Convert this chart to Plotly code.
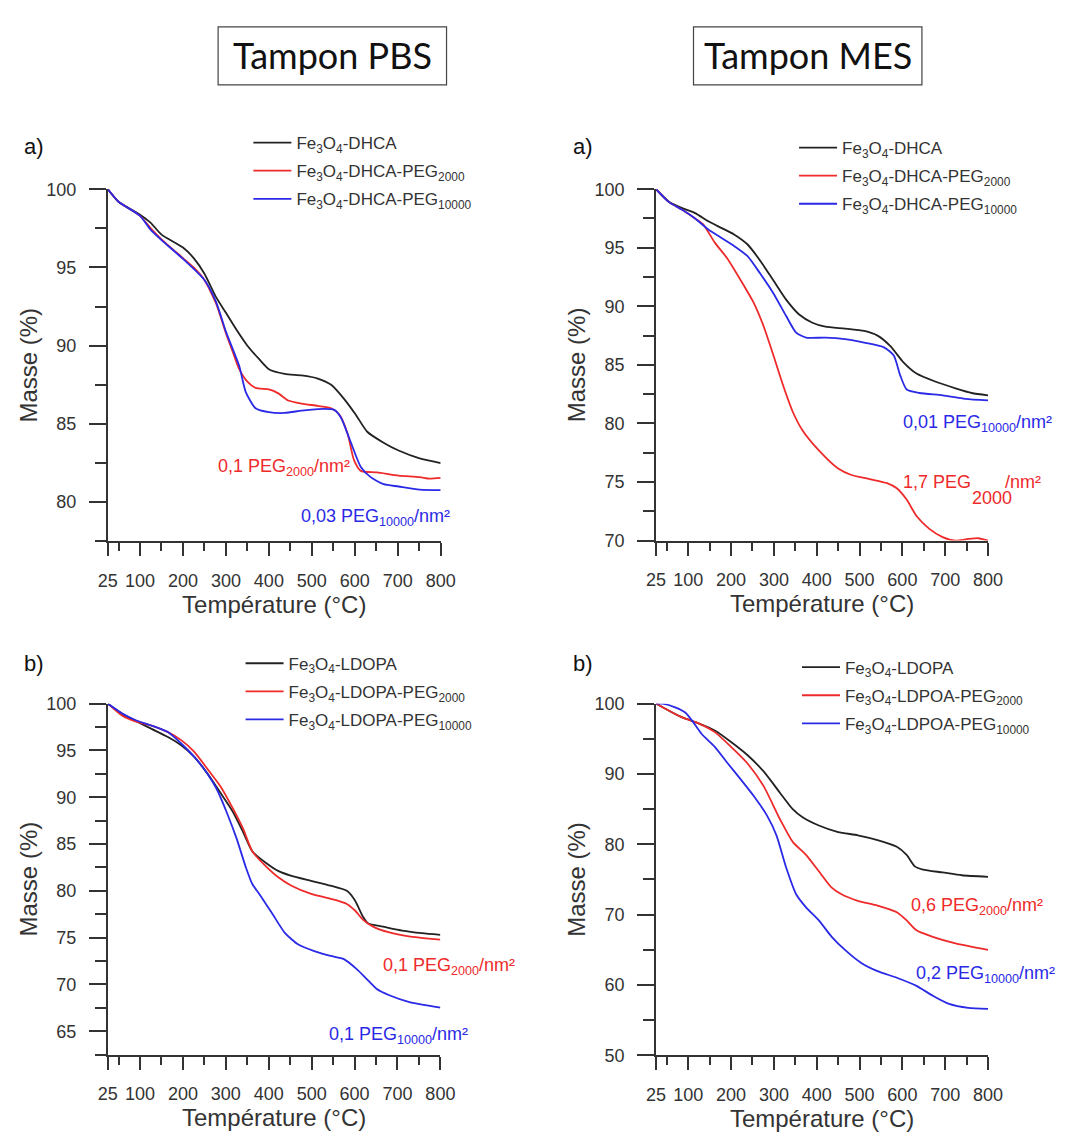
import plotly.graph_objects as go

# ---------------- DATA ----------------
# Panel a) Tampon PBS
pbs_a_dhca_T = [25, 50, 100, 125, 150, 200, 225, 250, 277, 300, 325, 350, 377, 400, 437, 476, 514, 545, 575, 602, 629, 667, 702, 751, 800]
pbs_a_dhca_m = [100, 99.2, 98.37, 97.85, 97.1, 96.27, 95.6, 94.6, 93.1, 92.1, 91.0, 90.0, 89.15, 88.5, 88.2, 88.1, 87.9, 87.5, 86.6, 85.6, 84.5, 83.8, 83.3, 82.8, 82.5]
pbs_a_p2k_T = [25, 50, 100, 125, 150, 200, 225, 250, 277, 300, 316, 331, 350, 369, 400, 422, 445, 476, 514, 545, 564, 583, 598, 614, 652, 702, 751, 774, 800]
pbs_a_p2k_m = [100, 99.2, 98.3, 97.5, 96.8, 95.6, 95.0, 94.2, 92.7, 90.8, 89.6, 88.5, 87.7, 87.3, 87.2, 86.95, 86.5, 86.3, 86.15, 86.0, 85.6, 84.4, 82.7, 82.0, 81.9, 81.7, 81.6, 81.5, 81.55]
pbs_a_p10k_T = [25, 50, 100, 125, 150, 200, 250, 277, 300, 331, 346, 369, 400, 437, 476, 514, 552, 568, 591, 614, 637, 667, 702, 751, 800]
pbs_a_p10k_m = [100, 99.2, 98.3, 97.4, 96.75, 95.55, 94.2, 92.8, 90.9, 88.7, 87.05, 86.0, 85.75, 85.7, 85.85, 85.95, 85.9, 85.4, 83.8, 82.25, 81.6, 81.15, 81.0, 80.8, 80.77]

# Panel a) Tampon MES
mes_a_dhca_T = [25, 55, 86, 116, 147, 177, 207, 238, 268, 299, 329, 359, 390, 420, 466, 511, 542, 572, 602, 633, 678, 724, 762, 800]
mes_a_dhca_m = [100, 98.94, 98.38, 97.96, 97.26, 96.7, 96.14, 95.3, 93.9, 92.2, 90.55, 89.3, 88.6, 88.26, 88.1, 87.9, 87.5, 86.6, 85.24, 84.26, 83.56, 83.0, 82.6, 82.4]
mes_a_p2k_T = [25, 55, 86, 116, 135, 162, 192, 223, 253, 276, 299, 321, 344, 367, 405, 450, 481, 526, 564, 587, 610, 633, 663, 694, 724, 754, 777, 800]
mes_a_p2k_m = [100, 98.9, 98.24, 97.5, 97.0, 95.44, 94.05, 92.2, 90.3, 88.3, 85.8, 83.3, 81.0, 79.4, 77.7, 76.15, 75.6, 75.23, 74.9, 74.47, 73.5, 72.1, 71.0, 70.3, 70.0, 70.14, 70.2, 70.0]
mes_a_p10k_T = [25, 55, 86, 116, 147, 177, 207, 238, 268, 299, 329, 352, 375, 420, 466, 511, 557, 580, 595, 610, 640, 694, 747, 800]
mes_a_p10k_m = [100, 98.9, 98.24, 97.5, 96.56, 95.86, 95.16, 94.3, 92.8, 91.1, 89.15, 87.75, 87.33, 87.33, 87.2, 86.9, 86.5, 85.8, 84.1, 82.9, 82.6, 82.4, 82.1, 81.97]

# Panel b) Tampon PBS
pbs_b_ldopa_T = [25, 59, 89, 127, 165, 196, 226, 256, 287, 317, 340, 362, 393, 423, 453, 499, 544, 582, 601, 620, 632, 666, 711, 757, 800]
pbs_b_ldopa_m = [100, 98.88, 98.18, 97.3, 96.44, 95.56, 94.34, 92.6, 90.5, 88.4, 86.3, 84.2, 83.0, 82.1, 81.6, 81.07, 80.55, 80.0, 78.97, 77.2, 76.5, 76.18, 75.76, 75.48, 75.3]
pbs_b_p2k_T = [25, 59, 89, 127, 165, 196, 226, 256, 287, 317, 340, 362, 393, 423, 453, 499, 544, 582, 601, 620, 643, 681, 726, 800]
pbs_b_p2k_m = [100, 98.7, 98.1, 97.66, 96.96, 96.1, 94.87, 93.1, 91.2, 88.75, 86.66, 84.2, 82.64, 81.42, 80.55, 79.67, 79.15, 78.6, 77.9, 76.9, 76.18, 75.55, 75.13, 74.78]
pbs_b_p10k_T = [25, 59, 89, 127, 165, 196, 226, 256, 279, 302, 325, 347, 362, 378, 408, 438, 469, 506, 544, 575, 605, 628, 651, 681, 726, 800]
pbs_b_p10k_m = [100, 98.95, 98.25, 97.66, 96.96, 95.74, 94.34, 92.6, 90.85, 88.4, 85.6, 82.47, 80.7, 79.67, 77.58, 75.48, 74.26, 73.56, 73.04, 72.7, 71.64, 70.6, 69.54, 68.84, 68.14, 67.52]

# Panel b) Tampon MES
mes_b_ldopa_T = [25, 55, 86, 124, 162, 200, 238, 276, 314, 344, 367, 405, 450, 496, 542, 587, 610, 629, 648, 694, 739, 800]
mes_b_ldopa_m = [100, 98.98, 98.04, 97.2, 96.18, 94.55, 92.7, 90.36, 87.34, 85.0, 83.85, 82.68, 81.75, 81.28, 80.6, 79.66, 78.5, 76.86, 76.4, 76.0, 75.6, 75.37]
mes_b_p2k_T = [25, 55, 86, 124, 162, 200, 238, 276, 314, 344, 375, 405, 435, 458, 496, 542, 587, 610, 633, 671, 724, 800]
mes_b_p2k_m = [100, 98.98, 98.04, 97.2, 95.95, 93.86, 91.53, 88.27, 83.6, 80.35, 78.5, 76.16, 73.84, 72.9, 71.97, 71.28, 70.34, 69.18, 67.78, 66.85, 65.92, 64.99]
mes_b_p10k_T = [25, 40, 71, 93, 109, 131, 162, 192, 223, 253, 284, 306, 329, 352, 375, 405, 435, 466, 504, 542, 587, 633, 671, 709, 754, 800]
mes_b_p10k_m = [100, 100, 99.44, 98.74, 97.58, 95.72, 93.86, 91.53, 89.2, 86.87, 84.08, 81.28, 76.63, 72.9, 71.04, 69.18, 66.85, 64.99, 63.13, 61.96, 61.03, 59.87, 58.47, 57.31, 56.75, 56.61]

x_major_ticks = [25, 100, 200, 300, 400, 500, 600, 700, 800]
x_minor_ticks = [50, 150, 250, 350, 450, 550, 650, 750]

# ---------------- LAYOUT HELPERS ----------------
# The page body has an 8px default margin: shrink the figure so that the
# page is exactly the window size, and express positions in window pixels.
WIN_W, WIN_H = 1065, 1146
OFF = 8
W, H = WIN_W - 2 * OFF, WIN_H - 2 * OFF

def PX(x):
    return (x - OFF) / W

def PY(y):
    return 1 - (y - OFF) / H

BLACK = "#222222"
RED = "#ee2a2a"
BLUE = "#2a2ae6"
AX = "#333333"
FONT = "Liberation Sans, Arial, sans-serif"

fig = go.Figure()

panels = [
    ("x", "y", "legend", (100, 441), (182.3, 540.7), [77.5, 100], 5,
     [(pbs_a_dhca_T, pbs_a_dhca_m, BLACK, "Fe<sub>3</sub>O<sub>4</sub>-DHCA"),
      (pbs_a_p2k_T, pbs_a_p2k_m, RED, "Fe<sub>3</sub>O<sub>4</sub>-DHCA-PEG<sub>2000</sub>"),
      (pbs_a_p10k_T, pbs_a_p10k_m, BLUE, "Fe<sub>3</sub>O<sub>4</sub>-DHCA-PEG<sub>10000</sub>")],
     (244, 117)),
    ("x2", "y2", "legend2", (661.7, 1001.7), (182.3, 540), [70, 100], 5,
     [(mes_a_dhca_T, mes_a_dhca_m, BLACK, "Fe<sub>3</sub>O<sub>4</sub>-DHCA"),
      (mes_a_p2k_T, mes_a_p2k_m, RED, "Fe<sub>3</sub>O<sub>4</sub>-DHCA-PEG<sub>2000</sub>"),
      (mes_a_p10k_T, mes_a_p10k_m, BLUE, "Fe<sub>3</sub>O<sub>4</sub>-DHCA-PEG<sub>10000</sub>")],
     (803, 122)),
    ("x3", "y3", "legend3", (100, 440.7), (706, 1063.3), [62.5, 100], 5,
     [(pbs_b_ldopa_T, pbs_b_ldopa_m, BLACK, "Fe<sub>3</sub>O<sub>4</sub>-LDOPA"),
      (pbs_b_p2k_T, pbs_b_p2k_m, RED, "Fe<sub>3</sub>O<sub>4</sub>-LDOPA-PEG<sub>2000</sub>"),
      (pbs_b_p10k_T, pbs_b_p10k_m, BLUE, "Fe<sub>3</sub>O<sub>4</sub>-LDOPA-PEG<sub>10000</sub>")],
     (236, 647)),
    ("x4", "y4", "legend4", (661.7, 1001.7), (706, 1064), [50, 100], 10,
     [(mes_b_ldopa_T, mes_b_ldopa_m, BLACK, "Fe<sub>3</sub>O<sub>4</sub>-LDOPA"),
      (mes_b_p2k_T, mes_b_p2k_m, RED, "Fe<sub>3</sub>O<sub>4</sub>-LDPOA-PEG<sub>2000</sub>"),
      (mes_b_p10k_T, mes_b_p10k_m, BLUE, "Fe<sub>3</sub>O<sub>4</sub>-LDPOA-PEG<sub>10000</sub>")],
     (806, 651)),
]

layout_axes = {}
gid = 0
for xid, yid, lid, xd, yd, yr, ydt, traces, lpos in panels:
    for T, m, col, name in traces:
        gid += 1
        fig.add_trace(go.Scatter(x=T, y=m, mode="lines", name=name,
                                 line=dict(color=col, width=1.8, shape="spline", smoothing=0.6),
                                 xaxis=xid, yaxis=yid, legend=lid, legendgroup="g%d" % gid))
    xkey = "xaxis" + xid[1:]
    ykey = "yaxis" + yid[1:]
    layout_axes[xkey] = dict(
        domain=[PX(xd[0]), PX(xd[1])], anchor=yid, range=[25, 800],
        tickvals=x_major_ticks, ticks="outside", ticklen=13, tickwidth=1.5, tickcolor=AX,
        minor=dict(tickvals=x_minor_ticks, ticks="outside", ticklen=8, tickwidth=1.5, tickcolor=AX),
        showline=True, linewidth=2, linecolor=AX, showgrid=False, zeroline=False,
        tickfont=dict(family=FONT, size=18, color=AX), ticklabelstandoff=9,
        title=dict(text="Température (°C)", font=dict(family=FONT, size=24, color=AX), standoff=4),
    )
    layout_axes[ykey] = dict(
        domain=[PY(yd[1]), PY(yd[0])], anchor=xid, range=yr,
        dtick=ydt, tick0=0, ticks="outside", ticklen=17, tickwidth=1.5, tickcolor=AX,
        minor=dict(dtick=ydt / 2, tick0=0, ticks="outside", ticklen=11, tickwidth=1.5, tickcolor=AX),
        showline=True, linewidth=2, linecolor=AX, showgrid=False, zeroline=False,
        tickfont=dict(family=FONT, size=18, color=AX), ticklabelstandoff=9,
        title=dict(text="Masse (%)", font=dict(family=FONT, size=24, color=AX), standoff=2),
    )
    layout_axes[lid] = dict(
        x=PX(lpos[0]), y=PY(lpos[1]), xanchor="left", yanchor="top",
        bgcolor="rgba(0,0,0,0)", font=dict(family=FONT, size=17, color=AX),
        tracegroupgap=3, itemwidth=38,
    )

fig.update_layout(**layout_axes)

annotations = []
shapes = []
for cx, txt, (x0, x1) in [(330, "Tampon PBS", (213, 447)), (817, "Tampon MES", (700, 934))]:
    shapes.append(dict(type="rect", xref="paper", yref="paper",
                       x0=PX(x0), x1=PX(x1), y0=PY(76), y1=PY(17),
                       line=dict(color="#444444", width=1.2), fillcolor="white"))
    annotations.append(dict(text=txt, x=PX(cx), y=PY(46), xref="paper", yref="paper",
                            xanchor="center", yanchor="middle", showarrow=False,
                            font=dict(family="Lato, Open Sans, sans-serif", size=36, color="#111111")))

for x, y, t in [(12, 139, "a)"), (575, 139, "a)"), (12, 665, "b)"), (575, 665, "b)")]:
    annotations.append(dict(text=t, x=PX(x), y=PY(y), xref="paper", yref="paper",
                            xanchor="left", yanchor="middle", showarrow=False,
                            font=dict(family=FONT, size=22, color="#111111")))

labels = [
    (211, 466, "0,1 PEG<sub>2000</sub>/nm²", RED),
    (296, 516, "0,03 PEG<sub>10000</sub>/nm²", BLUE),
    (913, 421, "0,01 PEG<sub>10000</sub>/nm²", BLUE),
    (913, 480, "1,7 PEG", RED),
    (983, 497, "2000", RED),
    (1017, 480, "/nm²", RED),
    (380, 974, "0,1 PEG<sub>2000</sub>/nm²", RED),
    (325, 1044, "0,1 PEG<sub>10000</sub>/nm²", BLUE),
    (921, 913, "0,6 PEG<sub>2000</sub>/nm²", RED),
    (926, 982, "0,2 PEG<sub>10000</sub>/nm²", BLUE),
]
for x, y, t, c in labels:
    annotations.append(dict(text=t, x=PX(x), y=PY(y), xref="paper", yref="paper",
                            xanchor="left", yanchor="middle", showarrow=False,
                            font=dict(family=FONT, size=18, color=c)))

fig.update_layout(
    width=W, height=H, margin=dict(l=0, r=0, t=0, b=0),
    paper_bgcolor="white", plot_bgcolor="white",
    annotations=annotations, shapes=shapes, showlegend=True,
    font=dict(family=FONT, color=AX),
)

fig.write_html("out.html")
